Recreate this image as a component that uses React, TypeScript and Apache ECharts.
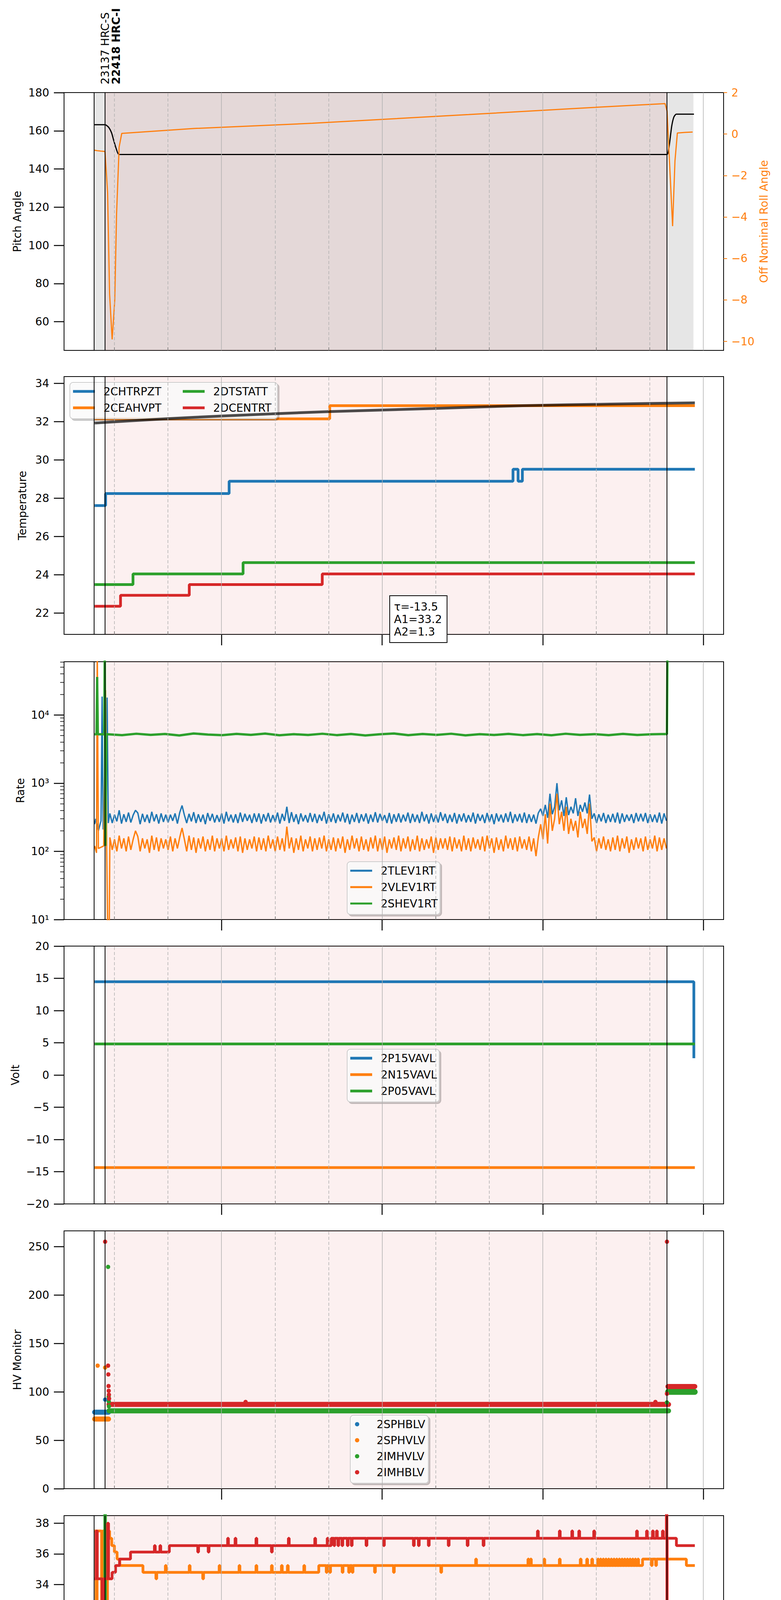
import { useEffect, useRef } from 'react'
import * as echarts from 'echarts'

type Pt = [number, number]

const FONT = 'DejaVu Sans'
const BLUE = '#1f77b4'
const ORANGE = '#ff7f0e'
const GREEN = '#2ca02c'
const RED = '#d62728'

// time axis in hours after 2020-01-30 00:00
const X_MIN = 6.118
const X_MAX = 30.757
const majorHours = [12, 18, 24, 30]
const minorHours = [8, 10, 14, 16, 20, 22, 26, 28]
const gridHours = [8, 10, 12, 14, 16, 18, 20, 22, 24, 26, 28, 30]
const obsEdges = [7.241, 7.65, 28.64]
const obsSpan = [7.65, 28.64]
const dataSpan = [7.241, 29.63]
const obsLabels = ['23137 HRC-S', '22418 HRC-I']
const fitText = 'τ=-13.5\nA1=33.2\nA2=1.3'
const xTitle = '2020-01-30 (030)'

// panel layout (px)
const PANEL_TOPS = [237, 964, 1694, 2422, 3151, 3880, 4609]
const PANEL_H = 660
const GRID_LEFT = 164
const GRID_RIGHT = 147

// tick values
const pitchTicks = [60, 80, 100, 120, 140, 160, 180]
const rollTicks = [-10, -8, -6, -4, -2, 0, 2]
const tempTicks = [22, 24, 26, 28, 30, 32, 34]
const rateTicks = [10, 100, 1000, 10000]
const rateMinorTicks = [20, 30, 40, 50, 60, 70, 80, 90, 200, 300, 400, 500, 600, 700, 800, 900,
  2000, 3000, 4000, 5000, 6000, 7000, 8000, 9000, 20000, 30000, 40000, 50000, 60000]
const voltTicks = [-20, -15, -10, -5, 0, 5, 10, 15, 20]
const hvTicks = [0, 50, 100, 150, 200, 250]
const detTicks = [22, 24, 26, 28, 30, 32, 34, 36, 38]
const feaTicks = [22, 24, 26, 28, 30]

// panel 1: pitch / roll
const pitch: Pt[] = [[7.241, 163.2], [7.65, 163.2], [7.78, 161.9], [7.894, 158.9], [7.968, 155.2], [8.07, 150.5],
  [8.17, 147.6], [28.642, 147.6], [28.69, 149.0], [28.745, 154.2], [28.82, 162.5], [28.9, 167.2], [28.99, 168.7], [29.65, 168.7]]
const roll: Pt[] = [[7.246, -0.78], [7.36, -0.8], [7.485, -0.82], [7.648, -0.84], [7.745, -2.84], [7.819, -7.7],
  [7.915, -9.9], [8.013, -8.0], [8.08, -3.86], [8.176, -0.63], [8.273, 0.03], [11.0, 0.27], [15.4, 0.52],
  [21.23, 0.94], [25.0, 1.22], [28.57, 1.47], [28.645, 1.11], [28.852, -4.44], [28.94, -1.3], [29.03, 0.05],
  [29.305, 0.08], [29.6, 0.1]]

// panel 2: temperatures (step at change times)
const chtrpzt: Pt[] = [[7.261, 27.62], [7.67, 28.25], [12.285, 28.89], [22.89, 29.52], [23.08, 28.89], [23.24, 29.52], [29.683, 29.52]]
const ceahvpt: Pt[] = [[7.261, 32.15], [16.043, 32.84], [29.683, 32.84]]
const dtstatt: Pt[] = [[7.261, 23.49], [8.694, 24.05], [12.806, 24.64], [29.683, 24.64]]
const dcentrt: Pt[] = [[7.261, 22.36], [8.228, 22.93], [10.796, 23.49], [15.764, 24.05], [29.683, 24.05]]
const fitCurve: Pt[] = [[7.261, 31.93], [8.5, 32.04], [10.0, 32.16], [12.0, 32.3], [13.87, 32.41], [16.0, 32.53],
  [19.9, 32.69], [23.26, 32.84], [26.5, 32.92], [29.683, 32.99]]

// panel 3: rates
const rateStart = 7.83
const rateEnd = 28.62
const tlevHead: Pt[] = [[7.261, 250], [7.3, 300], [7.4, 200], [7.5, 280], [7.54, 18600], [7.58, 210], [7.68, 250], [7.726, 18000], [7.77, 260]]
const tlevBody = [
  360, 260, 345, 275, 400, 255, 350, 270, 370, 265, 340, 400,
  365, 250, 355, 270, 345, 260, 380, 275, 350, 255, 360, 270,
  345, 265, 345, 280, 360, 255, 370, 470, 340, 260, 355, 275,
  375, 260, 350, 270, 345, 250, 365, 280, 355, 265, 340, 270,
  360, 255, 380, 275, 345, 265, 350, 260, 370, 270, 355, 280,
  345, 260, 360, 270, 360, 255, 350, 275, 365, 265, 340, 270,
  370, 255, 355, 280, 450, 260, 375, 270, 350, 250, 360, 275,
  340, 265, 365, 270, 355, 260, 345, 280, 380, 255, 350, 270,
  360, 260, 345, 275, 370, 265, 355, 250, 345, 270, 365, 260,
  350, 275, 360, 255, 345, 270, 375, 265, 355, 280, 340, 260,
  365, 255, 350, 270, 360, 265, 345, 275, 370, 260, 355, 270,
  345, 260, 380, 275, 350, 255, 360, 270, 345, 265, 375, 280,
  355, 260, 345, 270, 365, 255, 350, 275, 360, 265, 340, 270,
  370, 255, 355, 280, 345, 260, 365, 270, 350, 250, 360, 275,
  345, 265, 360, 270, 380, 260, 350, 275, 355, 265, 370, 260,
  350, 270, 345, 255, 365, 420, 330, 480, 310, 700, 350, 450,
  1000, 400, 560, 330, 620, 340, 450, 360, 600, 330, 480, 380,
  520, 360, 680, 300, 360, 260, 350, 275, 365, 260, 345, 270,
  355, 265, 370, 255, 360, 270, 345, 280, 350, 260, 365, 275,
  355, 275, 365, 260, 350, 270, 345, 265, 370, 255, 360, 280,
]
const vlevHead: Pt[] = [[7.261, 120], [7.33, 95], [7.36, 100000], [7.4, 110], [7.6, 120], [7.67, 23000], [7.71, 110], [7.76, 3], [7.8, 3]]
const vlevBody = [
  160, 105, 150, 100, 170, 110, 155, 100, 165, 105, 150, 200,
  165, 100, 155, 110, 150, 95, 170, 105, 160, 100, 155, 110,
  150, 105, 165, 100, 155, 110, 160, 220, 150, 100, 170, 105,
  160, 95, 155, 110, 165, 100, 150, 105, 170, 100, 155, 110,
  155, 100, 170, 105, 150, 110, 160, 100, 165, 95, 155, 105,
  150, 110, 165, 100, 160, 105, 155, 100, 170, 110, 150, 100,
  165, 105, 155, 100, 230, 110, 160, 95, 155, 105, 170, 100,
  150, 110, 165, 100, 155, 105, 160, 110, 170, 100, 150, 105,
  160, 100, 155, 110, 165, 95, 150, 105, 170, 110, 155, 100,
  165, 105, 150, 100, 160, 110, 170, 100, 155, 105, 165, 95,
  150, 110, 160, 105, 170, 100, 155, 110, 165, 100, 150, 105,
  170, 100, 155, 105, 150, 110, 165, 95, 160, 105, 155, 110,
  155, 105, 165, 100, 160, 110, 150, 100, 170, 105, 155, 100,
  160, 110, 150, 105, 165, 100, 170, 110, 155, 95, 160, 105,
  150, 100, 170, 110, 155, 105, 160, 100, 165, 110, 150, 105,
  165, 100, 155, 85, 160, 250, 150, 350, 130, 500, 200, 300,
  700, 250, 380, 200, 450, 180, 300, 200, 280, 160, 380, 220,
  300, 180, 500, 140, 160, 100, 155, 110, 165, 105, 150, 100,
  160, 105, 170, 100, 155, 110, 165, 95, 150, 105, 160, 110,
  155, 100, 165, 105, 150, 110, 170, 100, 160, 105, 155, 110,
]
const shevHead: Pt[] = [[7.261, 5200], [7.33, 5200], [7.354, 36000], [7.38, 5200], [7.62, 5200], [7.64, 100000], [7.66, 120], [7.7, 5200]]
const shevBody = [
  5200, 5050, 5300, 5100, 5250, 5000, 5350, 5150, 5050, 5280,
  5100, 5320, 5030, 5220, 5080, 5300, 5060, 5260, 5000, 5200,
  5340, 5050, 5250, 5100, 5300, 5020, 5220, 5080, 5280, 5060,
  5240, 5030, 5300, 5100, 5230, 5050, 5270, 5080, 5200, 5250,
]
const shevTail: Pt[] = [[28.64, 5200], [28.66, 100000]]

// panel 4: voltages
const p15vavl: Pt[] = [[7.261, 14.47], [29.646, 14.47], [29.646, 2.6]]
const n15vavl: Pt[] = [[7.261, -14.37], [29.683, -14.37]]
const p05vavl: Pt[] = [[7.261, 4.82], [29.683, 4.82]]

// panel 5: HV monitor (dense sample runs + isolated samples)
const sphbRun: Pt[] = [[7.261, 79], [7.78, 79]]
const sphbPts: Pt[] = [[7.652, 92]]
const sphvRun: Pt[] = [[7.261, 71.9], [7.78, 71.9]]
const sphvPts: Pt[] = [[7.373, 127], [7.652, 125]]
const imhvRun: Pt[] = [[7.8, 80.4], [28.7, 80.4]]
const imhvRun2: Pt[] = [[28.68, 99.9], [29.68, 99.9]]
const imhvPts: Pt[] = [[7.763, 229], [7.785, 95], [7.79, 90], [7.795, 85], [28.64, 89]]
const imhbRun: Pt[] = [[7.8, 87], [28.7, 87]]
const imhbRun2: Pt[] = [[28.68, 105.5], [29.68, 105.5]]
const imhbPts: Pt[] = [[7.652, 255], [7.763, 127], [7.772, 118], [7.78, 106], [7.787, 101], [7.795, 97], [7.8, 93],
  [12.9, 89.5], [28.21, 89.5], [28.641, 255], [28.641, 98]]

// panel 6: detector temperatures
const spinBase: Pt[] = [[7.261, 23.15], [7.912, 23.88], [14.43, 24.64], [29.683, 24.64]]
const spinSpikes: Pt[] = [[14.5, 23.88], [14.62, 23.88]]
const sphvHead: Pt[] = [[7.261, 37.5], [7.317, 31.1], [7.354, 37.5], [7.52, 21.0], [7.56, 37.5], [7.7, 31.3], [7.74, 37.5],
  [7.82, 37.02], [7.9, 36.54], [8.0, 36.12], [8.1, 35.66]]
const sphvBase: Pt[] = [[8.2, 35.24], [9.066, 34.79], [15.634, 35.24], [27.729, 35.66], [29.366, 35.24], [29.683, 35.24]]
const sphvSpikes: Pt[] = [[9.55, 34.37], [9.903, 35.24], [10.796, 35.24], [11.299, 34.37], [11.913, 35.24], [12.657, 35.24],
  [13.289, 35.24], [13.866, 35.24], [14.239, 35.24], [14.462, 35.24], [15.076, 35.24], [15.913, 34.79], [16.043, 34.79],
  [16.509, 34.79], [16.751, 34.79], [16.881, 34.79], [17.718, 34.79], [18.425, 34.79], [20.193, 34.79], [21.495, 35.66],
  [23.449, 35.66], [23.543, 35.66], [24.045, 35.66], [24.622, 35.66], [25.404, 35.66], [25.645, 35.66], [25.832, 35.66],
  [26.054, 35.66], [26.15, 35.66], [26.25, 35.66], [26.35, 35.66], [26.45, 35.66], [26.55, 35.66], [26.65, 35.66],
  [26.75, 35.66], [26.85, 35.66], [26.95, 35.66], [27.05, 35.66], [27.15, 35.66], [27.25, 35.66], [27.35, 35.66],
  [27.45, 35.66], [27.55, 35.66], [28.06, 35.24], [28.22, 35.24]]
const iminHead: Pt[] = [[7.261, 21.75], [7.317, 23.15], [7.354, 21.75], [7.64, 40], [7.665, 21.75]]
const iminBase: Pt[] = [[7.7, 21.75], [9.03, 22.41], [11.97, 23.15], [22.24, 23.88], [29.683, 23.88]]
const iminSpikes: Pt[] = [[12.06, 22.41], [12.22, 22.41], [20.73, 23.88], [21.31, 23.88], [21.38, 23.88], [21.45, 23.88],
  [21.52, 23.88], [21.59, 23.88], [21.66, 23.88], [21.73, 23.88], [21.8, 23.88], [21.87, 23.88], [21.94, 23.88],
  [22.01, 23.88], [22.08, 23.88], [22.15, 23.88]]
const imhvaHead: Pt[] = [[7.261, 34.37], [7.317, 37.5], [7.36, 34.37], [7.54, 21.0], [7.58, 34.37], [7.74, 38.0], [7.78, 34.37]]
const imhvaBase: Pt[] = [[7.912, 34.79], [8.042, 35.24], [8.191, 35.66], [8.601, 36.12], [10.052, 36.54], [16.099, 37.02],
  [28.994, 36.54], [29.683, 36.54]]
const imhvaSpikes: Pt[] = [[9.494, 36.54], [9.7, 36.54], [11.113, 36.12], [11.503, 36.12], [12.229, 37.02], [12.508, 37.02],
  [13.289, 37.02], [13.866, 36.12], [14.499, 37.02], [15.485, 37.02], [15.95, 37.02], [16.2, 36.54], [16.35, 36.54],
  [16.5, 36.54], [16.7, 36.54], [16.85, 36.54], [17.402, 36.54], [18.053, 36.54], [19.17, 36.54], [19.356, 36.54],
  [19.728, 36.54], [20.472, 36.54], [21.179, 36.54], [21.775, 36.54], [23.803, 37.5], [24.622, 37.5], [25.087, 37.5],
  [25.348, 37.5], [25.906, 37.5], [27.506, 37.5], [27.878, 37.5], [28.101, 37.5], [28.25, 37.5], [28.473, 37.5],
  [28.62, 45], [28.64, 10]]

// panel 7: FEA temperatures
const fhtrBase: Pt[] = [[7.261, 26.4], [11.5, 27.01], [29.683, 27.01]]
const fhtrSpikes: Pt[] = [[8.154, 24.61], [10.182, 25.21], [11.55, 26.4], [12.471, 26.4], [12.75, 25.21], [13.997, 26.4],
  [14.797, 26.4], [16.509, 25.21], [19.672, 28.9], [20.193, 26.4], [21.384, 28.27], [21.868, 26.4], [25.72, 24.61]]
const fradpyt: Pt[] = [[7.261, 22.37], [8.005, 22.93], [8.191, 22.37], [28.846, 22.93], [29.683, 22.93]]
const fepratm: Pt[] = [[7.261, 27.77], [7.33, 25.0], [7.37, 27.77], [7.64, 31], [7.67, 25.0], [7.72, 27.77], [8.154, 28.59],
  [28.63, 25.7], [28.65, 31], [28.67, 28.59], [29.683, 28.59]]
const fe00Head: Pt[] = [[7.261, 24.97], [7.3, 20], [7.33, 24.97], [7.52, 20], [7.56, 24.97], [7.6, 20], [7.64, 24.97],
  [7.68, 20], [7.72, 24.97], [7.76, 20], [7.79, 24.97]]
const fe00Base: Pt[] = [[7.85, 25.29], [12.29, 25.62], [29.683, 25.62]]
const fe00Spikes: Pt[] = [[8.04, 25.62], [8.66, 25.62], [8.71, 24.61], [9.03, 26.0], [9.07, 24.97], [9.12, 24.29],
  [9.31, 25.62], [9.74, 26.0], [9.92, 25.62], [10.24, 24.61], [10.39, 25.62], [10.61, 25.62], [10.72, 25.62],
  [11.08, 25.62], [11.13, 26.35], [11.32, 26.0], [11.54, 25.62], [11.73, 25.62], [11.86, 26.0], [11.97, 26.35],
  [12.31, 26.0], [12.36, 24.97], [12.45, 25.29], [12.55, 25.29], [12.66, 25.29], [12.75, 25.29], [12.85, 25.29],
  [12.95, 25.29], [13.07, 24.97], [13.15, 25.29], [13.25, 25.29], [13.4, 24.97], [13.5, 25.29], [13.55, 26.0],
  [13.62, 25.29], [13.68, 25.29], [13.75, 25.29], [13.85, 25.29], [14.07, 27.04], [14.24, 26.35], [14.29, 24.61],
  [14.43, 25.29], [14.74, 24.97], [14.89, 25.29], [15.08, 25.29], [15.3, 24.61], [15.41, 26.0], [15.82, 25.29],
  [15.91, 24.97], [16.23, 24.97], [16.56, 26.35], [16.75, 26.35], [17.22, 25.29], [17.53, 24.61], [17.59, 26.0],
  [17.77, 26.0], [17.96, 25.29], [18.11, 26.35], [18.28, 26.0], [18.34, 24.97], [18.52, 25.29], [18.84, 26.35],
  [18.98, 25.29], [19.36, 26.0], [19.5, 26.0], [19.63, 25.29], [20.01, 24.97], [20.1, 25.29], [20.19, 26.35],
  [20.47, 26.0], [20.58, 24.97], [20.75, 26.35], [20.94, 25.29], [21.07, 26.0], [21.31, 26.0], [21.4, 24.61],
  [21.59, 24.97], [21.68, 26.35], [21.87, 26.0], [22.05, 26.35], [22.15, 25.29], [22.33, 25.29], [22.61, 25.29],
  [22.8, 26.0], [22.95, 24.97], [23.08, 25.29], [23.49, 26.35], [23.56, 24.61], [24.01, 26.0], [24.19, 25.29],
  [24.34, 24.97], [24.6, 26.0], [24.75, 25.29], [24.98, 26.7], [25.09, 26.0], [25.22, 25.29], [25.37, 24.97],
  [25.5, 25.29], [25.81, 26.0], [25.87, 24.97], [26.3, 24.97], [26.34, 26.35], [26.43, 26.0], [26.8, 26.35],
  [27.17, 26.0], [27.26, 25.29], [27.45, 26.35], [27.73, 26.35], [27.82, 26.0], [28.01, 25.29], [28.57, 24.97],
  [28.61, 20]]

// legends
const leg2a = ['2CHTRPZT', '2CEAHVPT']
const leg2b = ['2DTSTATT', '2DCENTRT']
const leg3 = ['2TLEV1RT', '2VLEV1RT', '2SHEV1RT']
const leg4 = ['2P15VAVL', '2N15VAVL', '2P05VAVL']
const leg5 = ['2SPHBLV', '2SPHVLV', '2IMHVLV', '2IMHBLV']
const leg6 = ['2SPINATM', '2SPHVATM', '2IMINATM', '2IMHVATM']
const leg7 = ['2FHTRMZT', '2FRADPYT', '2FEPRATM', '2FE00ATM']

function sampled(head: Pt[], body: number[], t0: number, t1: number, tail: Pt[] = []): Pt[] {
  const dt = (t1 - t0) / (body.length - 1)
  return [...head, ...body.map((v, i) => [t0 + i * dt, v] as Pt), ...tail]
}

function withSpikes(head: Pt[], base: Pt[], spikes: Pt[], w = 0.03): Pt[] {
  const baseAt = (t: number) => {
    let v = base[0][1]
    for (const [bt, bv] of base) if (bt <= t) v = bv
    return v
  }
  const ev: Pt[] = [...base]
  for (const [t, v] of spikes) {
    ev.push([t, v])
    ev.push([t + w, baseAt(t + w)])
  }
  ev.sort((a, b) => a[0] - b[0])
  return [...head, ...ev]
}

const minus = (v: number) => String(v).replace('-', '\u2212')
const sup: Record<number, string> = { 1: '\u00b9', 2: '\u00b2', 3: '\u00b3', 4: '\u2074' }
const pad2 = (n: number) => String(n).padStart(2, '0')

function xAxes(p: number) {
  const last = p === 6
  return [
    {
      type: 'value', gridIndex: p, min: X_MIN, max: X_MAX, position: 'bottom',
      axisLine: { show: true, onZero: false, lineStyle: { color: '#000', width: 2 } },
      axisTick: { show: p > 0, customValues: majorHours, length: 28, inside: false, lineStyle: { color: '#000', width: 2.5 } },
      axisLabel: {
        show: last, customValues: majorHours, margin: 37, fontSize: 28, lineHeight: 33, fontFamily: FONT, color: '#000',
        formatter: (v: number) => `${v < 24 ? '01/30' : '01/31'}\n${pad2(v % 24)}\u02b0`,
      },
      splitLine: { show: false },
    },
    {
      type: 'value', gridIndex: p, min: X_MIN, max: X_MAX, position: 'bottom',
      axisLine: { show: false, onZero: false },
      axisTick: { show: true, customValues: minorHours, length: 8, inside: true, lineStyle: { color: '#000', width: 2 } },
      axisLabel: {
        show: last, customValues: minorHours, margin: 6, fontSize: 19, fontFamily: FONT, color: '#000',
        formatter: (v: number) => `${pad2(v % 24)}h`,
      },
      splitLine: { show: false },
      name: last ? xTitle : '', nameLocation: 'middle', nameGap: 70,
      nameTextStyle: { fontSize: 33, fontFamily: FONT, color: '#000' },
    },
  ]
}

function yAxis(p: number, min: number, max: number, ticks: number[], name: string, nameGap: number) {
  return {
    type: 'value', gridIndex: p, min, max, position: 'left',
    axisLine: { show: true, onZero: false, lineStyle: { color: '#000', width: 2 } },
    axisTick: { show: true, customValues: ticks, length: 26, lineStyle: { color: '#000', width: 2.5 } },
    axisLabel: { customValues: ticks, margin: 38, fontSize: 28, fontFamily: FONT, color: '#000', formatter: minus },
    splitLine: { show: false },
    name, nameLocation: 'middle', nameRotate: 90, nameGap,
    nameTextStyle: { fontSize: 28, fontFamily: FONT, color: '#000' },
  }
}

function bgSeries(p: number, yi: number) {
  const areas: any[] = []
  if (p === 0) areas.push([{ xAxis: dataSpan[0], itemStyle: { color: 'rgba(128,128,128,0.2)' } }, { xAxis: dataSpan[1] }])
  areas.push([{ xAxis: obsSpan[0], itemStyle: { color: 'rgba(214,39,40,0.07)' } }, { xAxis: obsSpan[1] }])
  return {
    type: 'line', name: `bg${p}`, data: [], xAxisIndex: 2 * p, yAxisIndex: yi, silent: true, z: 1,
    markArea: { silent: true, data: areas },
    markLine: {
      silent: true, symbol: ['none', 'none'], label: { show: false },
      data: [
        ...gridHours.map((h) => ({
          xAxis: h,
          lineStyle: { color: '#b0b0b0', width: 1.5, type: majorHours.includes(h) ? 'solid' : [8, 5] },
        })),
        ...obsEdges.map((h) => ({ xAxis: h, lineStyle: { color: '#000', width: 2, type: 'solid' } })),
      ],
    },
  }
}

function line(name: string, data: Pt[], color: string, p: number, yi: number, width: number, extra: any = {}) {
  return {
    type: 'line', name, data, xAxisIndex: 2 * p, yAxisIndex: yi, symbol: 'none', showSymbol: false,
    lineStyle: { color, width }, itemStyle: { color }, z: 3, clip: true, ...extra,
  }
}

function dots(name: string, data: Pt[], color: string, p: number, yi: number) {
  return {
    type: 'scatter', name, data, xAxisIndex: 2 * p, yAxisIndex: yi, symbol: 'circle', symbolSize: 11,
    itemStyle: { color, opacity: 1 }, z: 4, clip: true,
  }
}

function legend(data: string[], left: number, top: number, padding: number[], extra: any = {}) {
  return {
    data, left, top, padding, orient: 'vertical', selectedMode: false, icon: 'rect',
    itemWidth: 56, itemHeight: 7, itemGap: 10,
    textStyle: { fontSize: 28, fontFamily: FONT, color: '#000', lineHeight: 32, padding: [0, 0, 0, 17] },
    backgroundColor: 'rgba(255,255,255,0.8)', borderColor: '#cccccc', borderWidth: 2, borderRadius: 8,
    shadowColor: 'rgba(0,0,0,0.25)', shadowOffsetX: 4, shadowOffsetY: 4,
    ...extra,
  }
}

export default function App() {
  const chartRef = useRef<HTMLDivElement>(null)

  useEffect(() => {
    if (!chartRef.current) return
    const chart = echarts.init(chartRef.current, undefined, { renderer: 'svg' })

    const grids = PANEL_TOPS.map((top) => ({
      left: GRID_LEFT, right: GRID_RIGHT, top, height: PANEL_H,
      show: true, borderColor: '#000', borderWidth: 2, backgroundColor: 'transparent',
    }))

    const xAxis = PANEL_TOPS.flatMap((_, p) => xAxes(p))

    const yAxes = [
      yAxis(0, 45, 180, pitchTicks, 'Pitch Angle', 106),
      {
        type: 'value', gridIndex: 0, min: -10.43, max: 2, position: 'right',
        axisLine: { show: true, onZero: false, lineStyle: { color: '#000', width: 2 } },
        axisTick: { show: true, customValues: rollTicks, length: 9, lineStyle: { color: ORANGE, width: 2 } },
        axisLabel: { customValues: rollTicks, margin: 20, fontSize: 28, fontFamily: FONT, color: ORANGE, formatter: minus },
        splitLine: { show: false },
        name: 'Off Nominal Roll Angle', nameLocation: 'middle', nameRotate: 90, nameGap: 85,
        nameTextStyle: { fontSize: 28, fontFamily: FONT, color: ORANGE },
      },
      yAxis(1, 20.89, 34.36, tempTicks, 'Temperature', 93),
      {
        type: 'log', logBase: 10, gridIndex: 2, min: 10, max: 60300, position: 'left',
        axisLine: { show: true, onZero: false, lineStyle: { color: '#000', width: 2 } },
        axisTick: { show: true, customValues: rateTicks, length: 26, lineStyle: { color: '#000', width: 2.5 } },
        axisLabel: {
          customValues: rateTicks, margin: 38, fontSize: 28, fontFamily: FONT, color: '#000',
          formatter: (v: number) => `10${sup[Math.round(Math.log10(v))] ?? ''}`,
        },
        splitLine: { show: false },
        name: 'Rate', nameLocation: 'middle', nameRotate: 90, nameGap: 98,
        nameTextStyle: { fontSize: 28, fontFamily: FONT, color: '#000' },
      },
      {
        type: 'log', logBase: 10, gridIndex: 2, min: 10, max: 60300, position: 'left',
        axisLine: { show: false },
        axisTick: { show: true, customValues: rateMinorTicks, length: 10, lineStyle: { color: '#000', width: 1.5 } },
        axisLabel: { show: false },
        splitLine: { show: false },
      },
      yAxis(3, -20, 20, voltTicks, 'Volt', 111),
      yAxis(4, 0, 266.2, hvTicks, 'HV Monitor', 106),
      yAxis(5, 21.65, 38.5, detTicks, 'Detector Temp', 89),
      yAxis(6, 20.88, 30.07, feaTicks, 'FEA Temp', 89),
    ]

    const stepEnd = { step: 'end' }
    const series = [
      // panel 1
      bgSeries(0, 0),
      line('Pitch', pitch, '#000', 0, 0, 3, { smooth: 0.2 }),
      line('Roll', roll, ORANGE, 0, 1, 3),
      // panel 2
      bgSeries(1, 2),
      line('2CHTRPZT', chtrpzt, BLUE, 1, 2, 7, stepEnd),
      line('2CEAHVPT', ceahvpt, ORANGE, 1, 2, 7, stepEnd),
      line('2DTSTATT', dtstatt, GREEN, 1, 2, 7, stepEnd),
      line('2DCENTRT', dcentrt, RED, 1, 2, 7, stepEnd),
      line('fit', fitCurve, 'rgba(0,0,0,0.7)', 1, 2, 7, { smooth: 0.3, z: 4 }),
      // panel 3
      bgSeries(2, 3),
      line('2TLEV1RT', sampled(tlevHead, tlevBody, rateStart, rateEnd), BLUE, 2, 3, 3.5),
      line('2VLEV1RT', sampled(vlevHead, vlevBody, rateStart, rateEnd), ORANGE, 2, 3, 3.5),
      line('2SHEV1RT', sampled(shevHead, shevBody, 7.75, 28.6, shevTail), GREEN, 2, 3, 6),
      // panel 4
      bgSeries(3, 5),
      line('2P15VAVL', p15vavl, BLUE, 3, 5, 7),
      line('2N15VAVL', n15vavl, ORANGE, 3, 5, 7),
      line('2P05VAVL', p05vavl, GREEN, 3, 5, 7),
      // panel 5
      bgSeries(4, 6),
      line('2SPHBLV', sphbRun, BLUE, 4, 6, 13, { lineStyle: { color: BLUE, width: 13, cap: 'round' } }),
      dots('2SPHBLV', sphbPts, BLUE, 4, 6),
      line('2SPHVLV', sphvRun, ORANGE, 4, 6, 13, { lineStyle: { color: ORANGE, width: 13, cap: 'round' } }),
      dots('2SPHVLV', sphvPts, ORANGE, 4, 6),
      line('2IMHVLV', imhvRun, GREEN, 4, 6, 13, { lineStyle: { color: GREEN, width: 13, cap: 'round' } }),
      line('2IMHVLV', imhvRun2, GREEN, 4, 6, 15, { lineStyle: { color: GREEN, width: 15, cap: 'round' } }),
      dots('2IMHVLV', imhvPts, GREEN, 4, 6),
      line('2IMHBLV', imhbRun, RED, 4, 6, 13, { lineStyle: { color: RED, width: 13, cap: 'round' } }),
      line('2IMHBLV', imhbRun2, RED, 4, 6, 13, { lineStyle: { color: RED, width: 13, cap: 'round' } }),
      dots('2IMHBLV', imhbPts, RED, 4, 6),
      // panel 6
      bgSeries(5, 7),
      line('2SPINATM', withSpikes([], spinBase, spinSpikes), BLUE, 5, 7, 7, stepEnd),
      line('2SPHVATM', withSpikes(sphvHead, sphvBase, sphvSpikes), ORANGE, 5, 7, 7, stepEnd),
      line('2IMINATM', withSpikes(iminHead, iminBase, iminSpikes), GREEN, 5, 7, 7, stepEnd),
      line('2IMHVATM', withSpikes(imhvaHead, imhvaBase, imhvaSpikes), RED, 5, 7, 7, stepEnd),
      // panel 7
      bgSeries(6, 8),
      line('2FHTRMZT', withSpikes([], fhtrBase, fhtrSpikes), BLUE, 6, 8, 7, stepEnd),
      line('2FRADPYT', fradpyt, ORANGE, 6, 8, 7, stepEnd),
      line('2FEPRATM', fepratm, GREEN, 6, 8, 7, stepEnd),
      line('2FE00ATM', withSpikes(fe00Head, fe00Base, fe00Spikes), RED, 6, 8, 7, stepEnd),
    ]

    const legends = [
      legend(leg2a, 179, 979, [7, 297, 12, 8]),
      legend(leg2b, 460, 979, [7, 8, 12, 8], { backgroundColor: 'transparent', borderWidth: 0, shadowColor: 'transparent' }),
      legend(leg3, 889, 2206, [7, 6, 12, 8], { itemHeight: 5 }),
      legend(leg4, 889, 2686, [7, 6, 12, 8]),
      legend(leg5, 897, 3623, [7, 8, 12, 12], { icon: 'circle', itemHeight: 11, itemGap: 9 }),
      legend(leg6, 886, 4122, [8, 8, 12, 7]),
      legend(leg7, 1589, 5078, [8, 8, 12, 5]),
    ]

    const textStyleBase = { fontFamily: FONT, fontSize: 28, fill: '#000' }
    const graphic = [
      {
        type: 'text', x: 269, y: 216, rotation: Math.PI / 2, z: 50,
        style: { ...textStyleBase, text: obsLabels[0], align: 'left', verticalAlign: 'middle' },
      },
      {
        type: 'text', x: 297, y: 216, rotation: Math.PI / 2, z: 50,
        style: { ...textStyleBase, fontWeight: 'bold', text: obsLabels[1], align: 'left', verticalAlign: 'middle' },
      },
      {
        type: 'text', x: 999, y: 1526, z: 50,
        style: {
          ...textStyleBase, text: fitText, lineHeight: 32, align: 'left', verticalAlign: 'top',
          backgroundColor: '#fff', borderColor: '#000', borderWidth: 2, padding: [11, 12, 11, 10],
        },
      },
    ]

    chart.setOption({
      animation: false,
      backgroundColor: '#fff',
      textStyle: { fontFamily: FONT },
      grid: grids,
      xAxis,
      yAxis: yAxes,
      legend: legends,
      series,
      graphic,
    })

    return () => chart.dispose()
  }, [])

  return (
    <div
      ref={chartRef}
      style={{ position: 'absolute', left: 0, top: 0, width: 2000, height: 5400, background: '#fff' }}
    />
  )
}
